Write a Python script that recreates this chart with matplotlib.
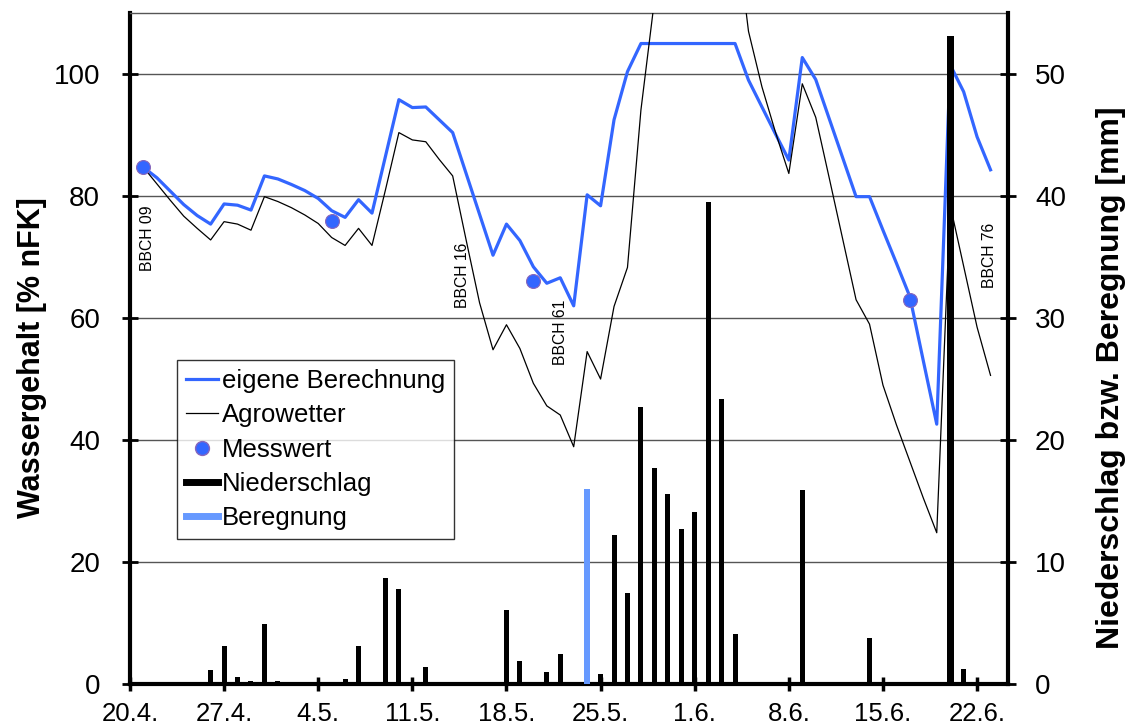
import numpy as np
import matplotlib
matplotlib.use('Agg')
import matplotlib.pyplot as plt
from matplotlib.lines import Line2D

plt.rcParams['font.family'] = ['Liberation Sans', 'DejaVu Sans']

# Tage ab 20.4.
tage = np.arange(1, 65)

eigene = [84.7, 83.0, 80.8, 78.6, 76.8, 75.4, 78.7, 78.5, 77.7, 83.3,
          82.8, 81.9, 80.9, 79.6, 77.6, 76.5, 79.4, 77.2, 86.5, 95.8,
          94.5, 94.6, 92.5, 90.4, 83.7, 77.0, 70.3, 75.4, 72.7, 68.4,
          65.7, 66.6, 62.0, 80.2, 78.4, 92.5, 100.4, 105.0, 105.0, 105.0,
          105.0, 105.0, 105.0, 105.0, 105.0, 99.0, 94.6, 90.2, 85.9, 102.7,
          99.1, 92.7, 86.3, 79.9, 79.9, 74.4, 69.0, 63.5, 53.0, 42.6,
          101.5, 97.1, 89.7, 84.3]

agrowetter = [84.7, 82.0, 79.3, 76.7, 74.7, 72.8, 75.8, 75.4, 74.4, 79.9,
              79.1, 78.1, 76.9, 75.5, 73.2, 71.9, 74.7, 71.9, 81.0, 90.4,
              89.2, 88.9, 86.0, 83.3, 72.8, 62.5, 54.8, 58.9, 55.0, 49.3,
              45.6, 44.1, 38.9, 54.5, 50.0, 61.9, 68.3, 94.1, 112.0, 120.0,
              120.0, 120.0, 120.0, 120.0, 125.0, 107.0, 97.9, 90.5, 83.7, 98.4,
              92.9, 83.0, 73.0, 63.0, 59.0, 49.0, 42.5, 36.5, 30.5, 24.8,
              78.5, 68.5, 58.5, 50.6]

mess_tage = [1, 15, 30, 58]
mess_werte = [84.7, 75.9, 66.1, 63.0]

regen_tage = [6, 7, 8, 9, 10, 11, 16, 17, 19, 20, 22, 28, 29, 31, 32, 35,
              36, 37, 38, 39, 40, 41, 42, 43, 44, 45, 48, 50, 55, 61, 62]
regen_mm = [1.15, 3.1, 0.6, 0.25, 4.9, 0.25, 0.4, 3.1, 8.7, 7.8, 1.4, 6.1,
            1.9, 1.0, 2.5, 0.8, 12.2, 7.5, 22.7, 17.7, 15.6, 12.7, 14.1,
            39.5, 23.4, 4.1, 0.1, 15.9, 3.8, 53.1, 1.2]

beregnung_tage = [34]
beregnung_mm = [16.0]

bbch_labels = ['BBCH 09', 'BBCH 16', 'BBCH 61', 'BBCH 76']
bbch_x = [1.3, 24.7, 32.0, 63.9]
bbch_y = [78.5, 72.3, 63.0, 75.6]

xtick_pos = np.arange(0, 64, 7)
xtick_labels = ['20.4.', '27.4.', '4.5.', '11.5.', '18.5.',
                '25.5.', '1.6.', '8.6.', '15.6.', '22.6.']

BLUE = '#3366ff'
LIGHTBLUE = '#6699ff'
GRID = '#555555'

fig = plt.figure(figsize=(11.39, 7.24), dpi=100)
ax = fig.add_axes([0.1141, 0.0552, 0.7709, 0.9268])
ax2 = ax.twinx()

ax.plot(tage, eigene, color=BLUE, lw=2.3, zorder=3)
ax.plot(tage, agrowetter, color='black', lw=0.9, zorder=3)
ax.plot(mess_tage, mess_werte, 'o', color=BLUE, mec='#8866bb', mew=0.8,
        ms=10, zorder=4)

breiten = [0.52 if v > 50 else 0.37 for v in regen_mm]
ax2.bar(regen_tage, regen_mm, width=breiten, color='black', zorder=2)
ax2.bar(beregnung_tage, beregnung_mm, width=0.42, color=LIGHTBLUE, zorder=2)

for lab, x, y in zip(bbch_labels, bbch_x, bbch_y):
    ax.text(x, y, lab, rotation=90, ha='center', va='top', fontsize=11.3)

ax.set_xlim(0, 65.3)
ax.set_ylim(0, 110)
ax2.set_ylim(0, 55)

ax.set_xticks(xtick_pos)
ax.set_xticklabels(xtick_labels, fontsize=18.5)
ax.set_yticks(np.arange(0, 101, 20))
ax.tick_params(axis='y', labelsize=20, direction='inout', length=11, width=2, pad=16)
ax.tick_params(axis='x', direction='inout', length=10, width=2.5, pad=8)
ax2.set_yticks(np.arange(0, 51, 10))
ax2.tick_params(axis='y', labelsize=20, direction='inout', length=11, width=2, pad=14)

ax.yaxis.grid(True, color=GRID, lw=1)
ax.set_axisbelow(True)

for sp in ['left', 'bottom']:
    ax.spines[sp].set_linewidth(3)
ax2.spines['right'].set_linewidth(3)
ax2.spines['left'].set_visible(False)
ax2.spines['bottom'].set_visible(False)
ax.spines['right'].set_visible(False)
ax.spines['top'].set_color(GRID)
ax.spines['top'].set_linewidth(1)
ax2.spines['top'].set_visible(False)

ax.set_ylabel('Wassergehalt [% nFK]', fontsize=22, fontweight='bold')
ax.yaxis.set_label_coords(-0.0945, 0.487)
ax2.set_ylabel('Niederschlag bzw. Beregnung [mm]', fontsize=23,
               fontweight='bold')
ax2.yaxis.set_label_coords(1.1, 0.456)

handles = [
    Line2D([], [], color=BLUE, lw=2.3),
    Line2D([], [], color='black', lw=0.9),
    Line2D([], [], ls='none', marker='o', color=BLUE, mec='#8866bb', ms=10),
    Line2D([], [], color='black', lw=5),
    Line2D([], [], color=LIGHTBLUE, lw=5),
]
labels = ['eigene Berechnung', 'Agrowetter', 'Messwert', 'Niederschlag', 'Beregnung']
leg = ax2.legend(handles, labels, loc='lower left', bbox_to_anchor=(0.0535, 0.216),
                 borderaxespad=0, fontsize=18.5, frameon=True, fancybox=False,
                 edgecolor='black', handlelength=1.25, handletextpad=0.16,
                 labelspacing=0.4, borderpad=0.35)
leg.get_frame().set_linewidth(1)
leg.set_zorder(10)

fig.savefig('out.png', dpi=100, facecolor='white')
